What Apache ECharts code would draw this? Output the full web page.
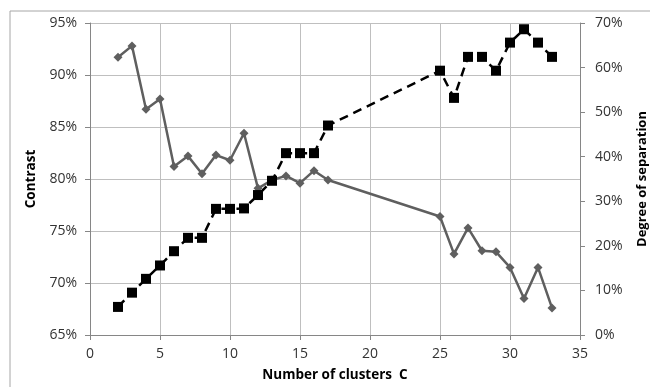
<!DOCTYPE html>
<html>
<head>
<meta charset="utf-8">
<script src="https://cdn.jsdelivr.net/npm/echarts@6/dist/echarts.min.js"></script>
<style>
  html, body { margin: 0; padding: 0; background: #fff; }
  #chart { width: 650px; height: 387px; }
</style>
</head>
<body>
<div id="chart"></div>
<script>
// Number of clusters C
const clusters = [2, 3, 4, 5, 6, 7, 8, 9, 10, 11, 12, 13, 14, 15, 16, 17, 25, 26, 27, 28, 29, 30, 31, 32, 33];
// Contrast (%), left axis
const contrast = [91.7, 92.8, 86.7, 87.7, 81.2, 82.2, 80.5, 82.3, 81.8, 84.4, 79.1, 79.9, 80.3, 79.6, 80.8, 79.9,
                  76.4, 72.8, 75.3, 73.1, 73.0, 71.5, 68.5, 71.5, 67.6];
// Degree of separation (%), right axis
const separation = [6.3, 9.5, 12.6, 15.6, 18.8, 21.8, 21.8, 28.3, 28.3, 28.4, 31.4, 34.6, 40.8, 40.8, 40.8, 47.0,
                    59.3, 53.2, 62.4, 62.4, 59.3, 65.6, 68.6, 65.6, 62.4];

const font = 'Open Sans, Noto Sans, sans-serif';
const axisGray = '#868686';
const gridGray = '#bfbfbf';
const labelColor = '#333';

const chart = echarts.init(document.getElementById('chart'), null, { renderer: 'canvas' });
chart.setOption({
  animation: false,
  backgroundColor: '#fff',
  // chart frame (top and left edges)
  graphic: [
    { type: 'line', shape: { x1: 10, y1: 11, x2: 650, y2: 11 }, style: { stroke: '#a6a6a6', lineWidth: 1 } },
    { type: 'line', shape: { x1: 10, y1: 11, x2: 10, y2: 387 }, style: { stroke: '#a6a6a6', lineWidth: 1 } }
  ],
  grid: { left: 90, right: 70, top: 23, bottom: 52, containLabel: false, outerBoundsMode: 'none' },
  xAxis: {
    type: 'value', min: 0, max: 35, interval: 5,
    name: 'Number of clusters  C', nameLocation: 'middle', nameGap: 33,
    nameTextStyle: { fontFamily: font, fontSize: 13.5, fontWeight: 'bold', color: '#000' },
    axisLine: { lineStyle: { color: axisGray } },
    axisTick: { show: true, length: 5, lineStyle: { color: axisGray } },
    axisLabel: { fontFamily: font, fontSize: 14, color: labelColor, margin: 12 },
    splitLine: { show: true, lineStyle: { color: gridGray, width: 1 } }
  },
  yAxis: [
    {
      type: 'value', min: 65, max: 95, interval: 5, position: 'left',
      name: 'Contrast', nameLocation: 'middle', nameGap: 48, nameRotate: 90,
      nameTextStyle: { fontFamily: font, fontSize: 13.5, fontWeight: 'bold', color: '#000' },
      axisLine: { show: true, lineStyle: { color: axisGray } },
      axisTick: { show: true, length: 5, lineStyle: { color: axisGray } },
      axisLabel: { formatter: '{value}%', fontFamily: font, fontSize: 14, color: labelColor, margin: 13 },
      splitLine: { show: true, lineStyle: { color: gridGray, width: 1 } }
    },
    {
      type: 'value', min: 0, max: 70, interval: 10, position: 'right',
      name: 'Degree of separation', nameLocation: 'middle', nameGap: 56, nameRotate: 90,
      nameTextStyle: { fontFamily: font, fontSize: 13, fontWeight: 'bold', color: '#000' },
      axisLine: { show: true, lineStyle: { color: axisGray } },
      axisTick: { show: true, length: 5, lineStyle: { color: axisGray } },
      axisLabel: { formatter: '{value}%', fontFamily: font, fontSize: 14, color: labelColor, margin: 15 },
      splitLine: { show: false }
    }
  ],
  series: [
    {
      name: 'Contrast', type: 'line', yAxisIndex: 0,
      data: clusters.map((c, i) => [c, contrast[i]]),
      symbol: 'diamond', symbolSize: 9,
      lineStyle: { color: '#5f5f5f', width: 2.5 },
      itemStyle: { color: '#5f5f5f' },
      z: 2
    },
    {
      name: 'Degree of separation', type: 'line', yAxisIndex: 1,
      data: clusters.map((c, i) => [c, separation[i]]),
      symbol: 'rect', symbolSize: 10,
      lineStyle: { color: '#000', width: 2.5, type: [9, 6] },
      itemStyle: { color: '#000' },
      z: 3
    }
  ]
});
</script>
</body>
</html>
